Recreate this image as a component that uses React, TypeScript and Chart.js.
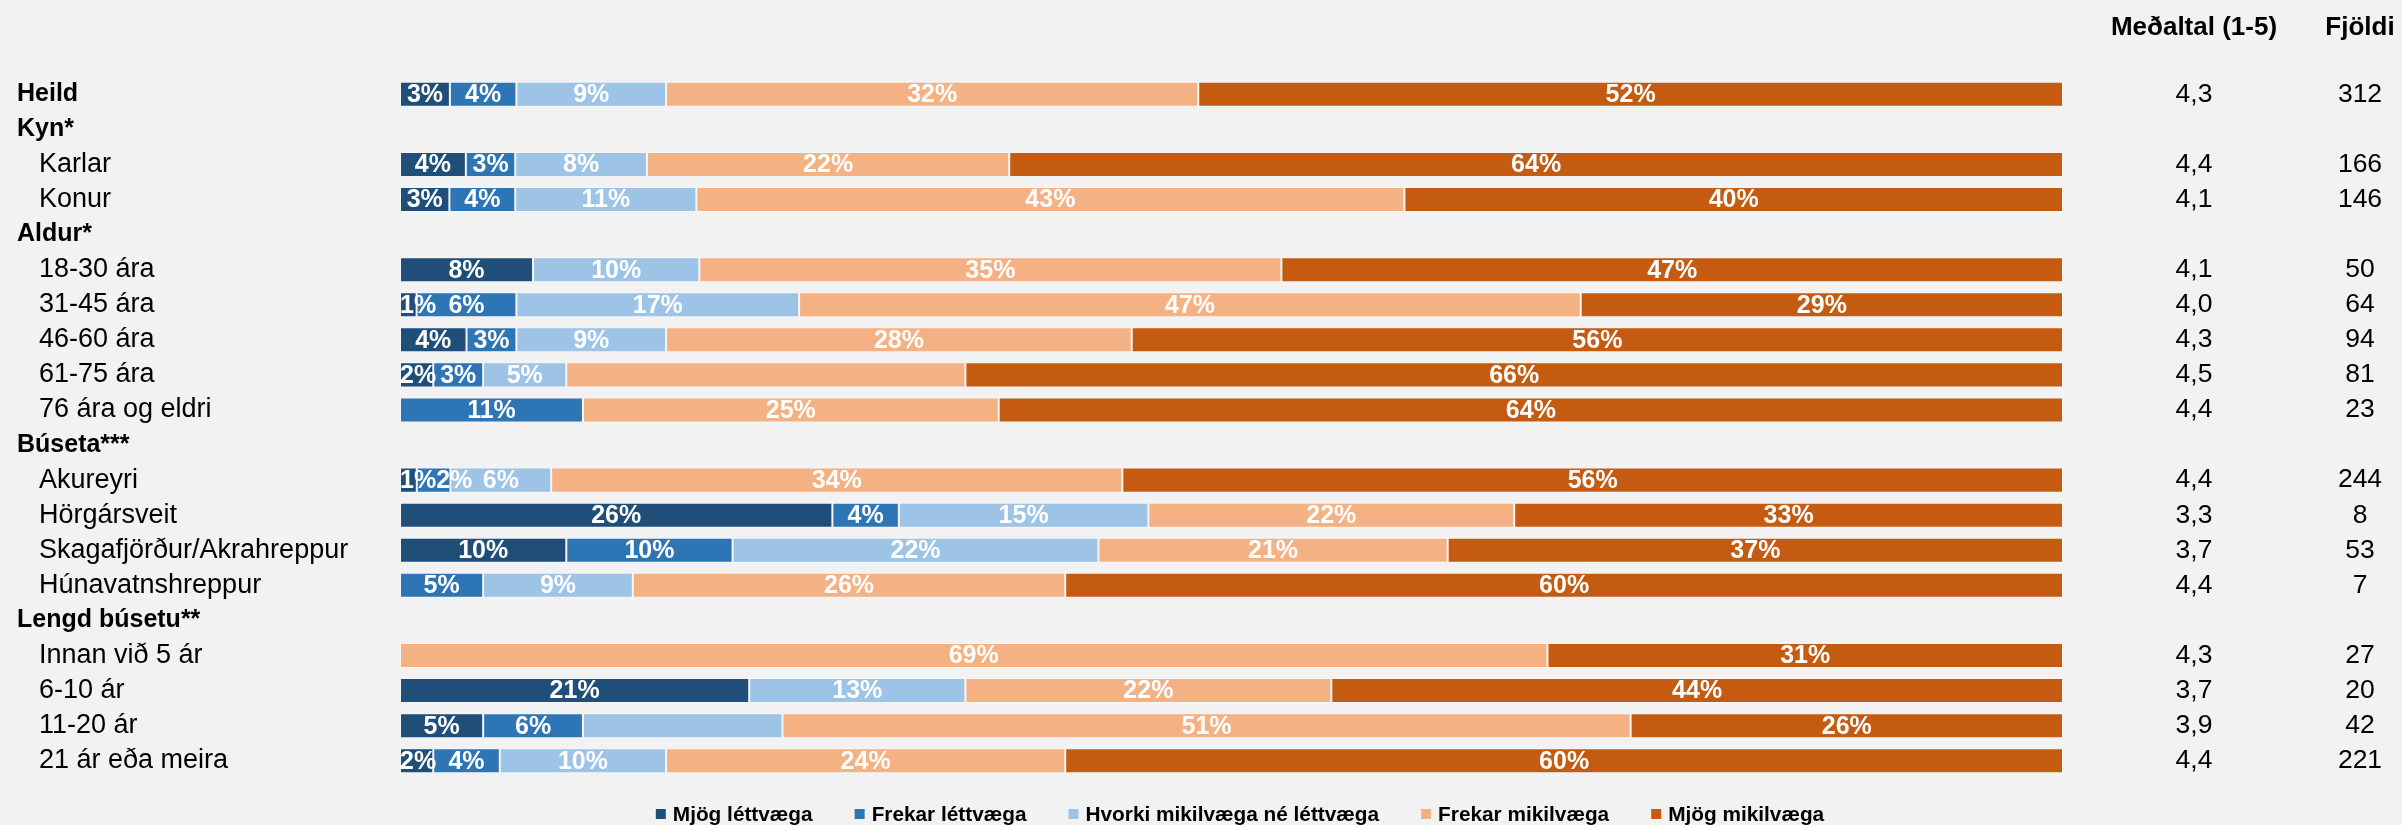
import React, { useEffect, useRef } from 'react';
import { Chart, registerables } from 'chart.js';

Chart.register(...registerables);

// ---------- DATA ----------
const categories = [
  'Heild', 'Kyn*', 'Karlar', 'Konur', 'Aldur*', '18-30 ára', '31-45 ára', '46-60 ára', '61-75 ára',
  '76 ára og eldri', 'Búseta***', 'Akureyri', 'Hörgársveit', 'Skagafjörður/Akrahreppur',
  'Húnavatnshreppur', 'Lengd búsetu**', 'Innan við 5 ár', '6-10 ár', '11-20 ár', '21 ár eða meira',
];
const boldRows = [true, true, false, false, true, false, false, false, false, false, true, false, false, false, false, true, false, false, false, false];
const indentRows = [false, false, true, true, false, true, true, true, true, true, false, true, true, true, true, false, true, true, true, true];

const seriesNames = ['Mjög léttvæga', 'Frekar léttvæga', 'Hvorki mikilvæga né léttvæga', 'Frekar mikilvæga', 'Mjög mikilvæga'];
const seriesColors = ['#1F4E79', '#2E75B6', '#9DC3E6', '#F4B183', '#C55A11'];

const mjogLettvaega = [3, null, 4, 3, null, 8, 1, 4, 2, 0, null, 1, 26, 10, 0, null, 0, 21, 5, 2];
const frekarLettvaega = [4, null, 3, 4, null, 0, 6, 3, 3, 11, null, 2, 4, 10, 5, null, 0, 0, 6, 4];
const hvorki = [9, null, 8, 11, null, 10, 17, 9, 5, 0, null, 6, 15, 22, 9, null, 0, 13, 12, 10];
const frekarMikilvaega = [32, null, 22, 43, null, 35, 47, 28, 24, 25, null, 34, 22, 21, 26, null, 69, 22, 51, 24];
const mjogMikilvaega = [52, null, 64, 40, null, 47, 29, 56, 66, 64, null, 56, 33, 37, 60, null, 31, 44, 26, 60];

const medaltal = [4.3, null, 4.4, 4.1, null, 4.1, 4.0, 4.3, 4.5, 4.4, null, 4.4, 3.3, 3.7, 4.4, null, 4.3, 3.7, 3.9, 4.4];
const fjoldi = [312, null, 166, 146, null, 50, 64, 94, 81, 23, null, 244, 8, 53, 7, null, 27, 20, 42, 221];

// segments whose value label is not shown in the original ("row:series")
const hiddenLabels = ['8:3', '18:2'];

const colHeaders = ['Meðaltal (1-5)', 'Fjöldi'];

const seriesValues = [mjogLettvaega, frekarLettvaega, hvorki, frekarMikilvaega, mjogMikilvaega];

const FONT = '"Liberation Sans", Arial, Helvetica, sans-serif';

export default function App() {
  const canvasRef = useRef<HTMLCanvasElement | null>(null);

  useEffect(() => {
    const canvas = canvasRef.current;
    if (!canvas) return;

    // normalize each row to 100% (as a 100% stacked bar does)
    const totals = categories.map((_, i) =>
      seriesValues.reduce((s, arr) => s + (arr[i] ?? 0), 0)
    );
    const datasets = seriesValues.map((arr, di) => ({
      label: seriesNames[di],
      data: arr.map((v, i) => (v == null ? null : (v / totals[i]) * 100)),
      backgroundColor: seriesColors[di],
      borderColor: 'rgba(255,255,255,0.35)',
      borderWidth: 1,
      borderSkipped: false as const,
      barPercentage: 0.713,
      categoryPercentage: 1,
    }));

    const overlay = {
      id: 'overlay',
      afterDatasetsDraw(chart: any) {
        const ctx = chart.ctx as CanvasRenderingContext2D;
        const area = chart.chartArea;
        ctx.save();
        ctx.fillStyle = '#ffffff';
        ctx.font = `bold 25px ${FONT}`;
        ctx.textAlign = 'center';
        ctx.textBaseline = 'middle';
        categories.forEach((_, i) => {
          let lastRight = -Infinity;
          seriesValues.forEach((arr, di) => {
            const v = arr[i];
            if (v == null || v === 0 || hiddenLabels.includes(`${i}:${di}`)) return;
            const el = chart.getDatasetMeta(di).data[i];
            if (!el) return;
            const p = el.getProps(['x', 'base', 'y'], true);
            const text = `${v}%`;
            const w = ctx.measureText(text).width;
            let cx = (p.x + p.base) / 2;
            if (cx - w / 2 < area.left) cx = area.left + w / 2;
            if (cx - w / 2 < lastRight) cx = lastRight + w / 2;
            ctx.fillText(text, cx, p.y + 1);
            lastRight = cx + w / 2;
          });
        });
        ctx.restore();
      },
      afterDraw(chart: any) {
        const ctx = chart.ctx as CanvasRenderingContext2D;
        const yScale = chart.scales.y;
        ctx.save();
        ctx.textBaseline = 'middle';
        ctx.fillStyle = '#000000';

        // left category labels
        categories.forEach((c, i) => {
          const y = yScale.getPixelForValue(i);
          ctx.font = boldRows[i] ? `bold 25px ${FONT}` : `27px ${FONT}`;
          ctx.textAlign = 'left';
          ctx.fillText(c, indentRows[i] ? 39 : 17, y);
        });

        // right columns
        const colX = [2194, 2360];
        ctx.font = `bold 26px ${FONT}`;
        ctx.textAlign = 'center';
        colHeaders.forEach((h, k) => ctx.fillText(h, colX[k], 28));
        ctx.font = `26.5px ${FONT}`;
        categories.forEach((_, i) => {
          const y = yScale.getPixelForValue(i);
          const m = medaltal[i];
          const n = fjoldi[i];
          if (m != null) ctx.fillText(m.toFixed(1).replace('.', ','), colX[0], y);
          if (n != null) ctx.fillText(String(n), colX[1], y);
        });

        // legend
        ctx.font = `bold 20.8px ${FONT}`;
        ctx.textAlign = 'left';
        const box = 10;
        const gapBoxText = 7;
        const gapItems = 42;
        const widths = seriesNames.map((s) => box + gapBoxText + ctx.measureText(s).width);
        const total = widths.reduce((a, b) => a + b, 0) + gapItems * (seriesNames.length - 1);
        let x = 1240 - total / 2;
        const ly = 814;
        seriesNames.forEach((s, k) => {
          ctx.fillStyle = seriesColors[k];
          ctx.fillRect(x, ly - box / 2, box, box);
          ctx.fillStyle = '#000000';
          ctx.fillText(s, x + box + gapBoxText, ly + 1);
          x += widths[k] + gapItems;
        });
        ctx.restore();
      },
    };

    const chart = new Chart(canvas, {
      type: 'bar',
      data: { labels: categories, datasets },
      options: {
        indexAxis: 'y',
        animation: false,
        responsive: false,
        devicePixelRatio: 1,
        layout: { padding: { left: 400, right: 339, top: 76.7, bottom: 46.7 } },
        plugins: {
          legend: { display: false },
          tooltip: { enabled: false },
          title: { display: false },
        },
        scales: {
          x: { stacked: true, min: 0, max: 100, display: false, grid: { display: false } },
          y: { stacked: true, display: false, grid: { display: false } },
        },
      },
      plugins: [overlay],
    });

    return () => chart.destroy();
  }, []);

  return (
    <div
      style={{
        position: 'fixed',
        left: 0,
        top: 0,
        width: 2402,
        height: 825,
        background: '#F2F2F2',
        overflow: 'hidden',
      }}
    >
      <canvas ref={canvasRef} width={2402} height={825} style={{ display: 'block', width: 2402, height: 825 }} />
    </div>
  );
}
